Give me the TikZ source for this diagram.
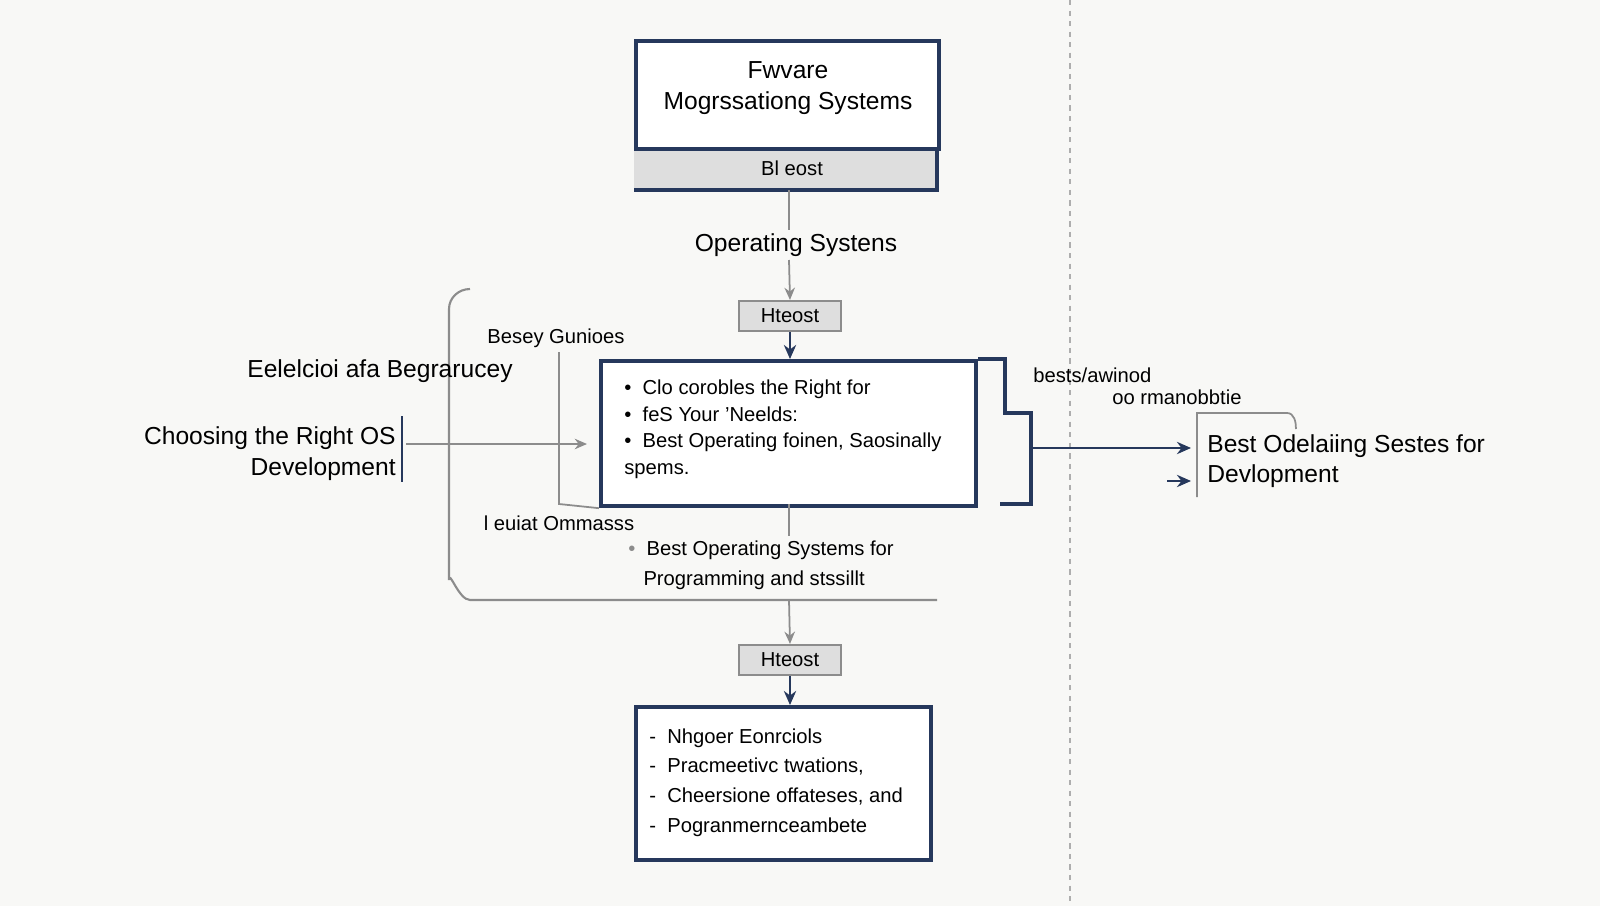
\documentclass[tikz,border=0pt]{standalone}
\usepackage{fontspec}
\setmainfont{Liberation Sans}
\usetikzlibrary{arrows.meta, positioning}
\definecolor{navy}{RGB}{38, 56, 92}
\definecolor{linegray}{RGB}{140, 140, 140}
\definecolor{boxgray}{RGB}{222, 222, 222}
\definecolor{paper}{RGB}{248, 248, 246}
\tikzstyle{mainbox} = [rectangle, draw=navy, line width=2.4pt, fill=white]
\tikzstyle{tagbox} = [rectangle, draw=linegray, line width=1.2pt, fill=boxgray, minimum width=2.05cm, minimum height=0.6cm, font=\fontsize{11.5}{14}\selectfont, inner sep=0pt]
\tikzstyle{arrow} = [line width=1pt, draw=linegray, -{Stealth[length=7pt, width=6pt]}]
\tikzstyle{navyarrow} = [line width=1.2pt, draw=navy, -{Stealth[length=8pt, width=7pt]}]
\tikzstyle{plain} = [line width=1pt, draw=linegray]
\tikzstyle{label} = [inner sep=0pt, font=\fontsize{11.5}{14}\selectfont]
\tikzstyle{biglabel} = [inner sep=0pt, font=\fontsize{14}{17.5}\selectfont]
\begin{document}
\begin{tikzpicture}[x=0.02cm, y=-0.02cm]
    \fill[paper] (0,0) rectangle (1600,906);
    \useasboundingbox (0,0) rectangle (1600,906);

    % divider
    \draw[linegray!70, line width=1pt, dashed] (1070,0) -- (1070,906);

    % top box
    \fill[boxgray] (634,146) rectangle (937,190);
    \draw[navy, line width=2.4pt] (634,146) -- (937,146) -- (937,190) -- (634,190);
    \node[mainbox, minimum width=6.06cm, minimum height=2.16cm, anchor=north west] (top) at (634,39) {};
    \node[biglabel, align=center] (toptext) at (788,88) {Fwvare\\Mogrssationg Systems};
    \node[label] (strip) at (792,168) {Bl eost};
    \coordinate (stripb) at (789,190);

    % operating systems
    \node[biglabel] (os) at (796,245) {Operating Systens};
    \node[tagbox] (tag1) at (790,316) {Hteost};
    \draw[plain] (stripb) -- (789,230);
    \draw[arrow] (789,260) -- (tag1.north);

    % main box
    \node[mainbox, minimum width=7.5cm, minimum height=2.9cm, anchor=north west] (main) at (599,359) {};
    \node[label, align=left, anchor=north west] (maintext) at (624,380) {%
        \textbullet\ \ Clo corobles the Right for\\[1pt]
        \textbullet\ \ feS Your 'Neelds:\\[1pt]
        \textbullet\ \ Best Operating foinen, Saosinally\\[1pt]
        spems.};
    \draw[navyarrow] (tag1.south) -- (main.north -| tag1.south);

    % right bracket
    \draw[navy, line width=2.2pt] (main.north east) -- (1005,359) -- (1005,413) -- (1031,413) -- (1031,504) -- (1000,504);
    \node[label, anchor=west] (rt1) at (1033,375) {bests/awinod};
    \node[label, anchor=west] (rt2) at (1112,397) {oo rmanobbtie};
    \node[biglabel, align=left, anchor=north west] (best) at (1207,434) {Best Odelaiing Sestes for\\Devlopment};
    \coordinate (rbr) at (1031,448);
    \coordinate (rin) at (1191,448);
    \coordinate (rin2) at (1191,481);
    \coordinate (rin2s) at (1167,481);
    \draw[navyarrow] (rbr) -- (rin);
    \draw[navyarrow] (rin2s) -- (rin2);
    \draw[linegray, line width=1pt] (1197,497) -- (1197,413) -- (1287,413) to[out=0, in=90] (1296,429);

    % left side
    \draw[linegray, line width=1.2pt] (937,600) -- (470,600) to[out=180, in=90] (449,580) -- (449,309) to[out=90, in=180] (470,289);
    \node[label] (besey) at (556,338) {Besey Gunioes};
    \draw[plain] (559,352) -- (559,504) -- (main.south west);
    \node[biglabel] (eel) at (380,371) {Eelelcioi afa Begrarucey};
    \node[biglabel, align=right, anchor=east] (choose) at (396,454) {Choosing the Right OS\\Development};
    \draw[navy, line width=1.2pt] (402,416) -- (402,482);
    \coordinate (cho) at (406,444);
    \draw[arrow] (cho) -- (587,444);
    \node[label] (leuiat) at (559,523) {l euiat Ommasss};

    % lower
    \draw[plain] (789,504) -- (789,536);
    \node[label, align=left, anchor=north west] (prog) at (628,541) {%
        {\color{linegray}\textbullet}\ \ Best Operating Systems for\\[3pt]
        \hspace*{0.75em}Programming and stssillt};
    \node[tagbox] (tag2) at (790,660) {Hteost};
    \draw[arrow] (789,600) -- (tag2.north);

    % bottom box
    \node[mainbox, minimum width=5.9cm, minimum height=3.06cm, anchor=north west] (bottom) at (634,705) {};
    \node[label, align=left, anchor=north west] (list) at (649,728) {%
        -\ \ Nhgoer Eonrciols\\[3pt]
        -\ \ Pracmeetivc twations,\\[3pt]
        -\ \ Cheersione offateses, and\\[3pt]
        -\ \ Pogranmernceambete};
    \draw[navyarrow] (tag2.south) -- (bottom.north -| tag2.south);
\end{tikzpicture}
\end{document}
